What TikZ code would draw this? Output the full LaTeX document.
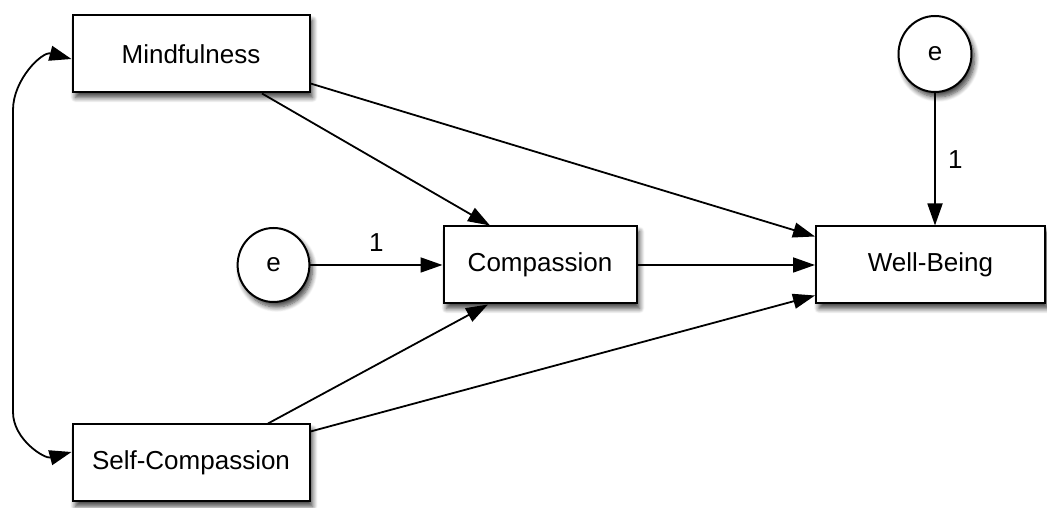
\documentclass[tikz,border=0pt]{standalone}
\usepackage{fontspec}
\setmainfont{Liberation Sans}
\usetikzlibrary{arrows.meta,shadows.blur}
\begin{document}
\begin{tikzpicture}[x=1pt,y=1pt,
  font=\fontsize{26}{31}\selectfont,
  shad/.style={blur shadow={shadow xshift=3pt,shadow yshift=-5pt,shadow blur steps=8,shadow blur radius=5pt,shadow opacity=75}},
  var/.style={draw,line width=2pt,fill=white,inner sep=0pt,minimum height=77pt,shad},
  errc/.style={draw,line width=2pt,fill=white,circle,inner sep=0pt,shad},
  path/.style={line width=1.8pt,-{Triangle[length=22pt,width=15pt]}},
  dpath/.style={line width=1.8pt,{Triangle[length=22pt,width=15pt]}-{Triangle[length=22pt,width=15pt]}}
]
\useasboundingbox (0,0) rectangle (1047,508);
\node[var,minimum width=237pt] (M) at (191,454) {Mindfulness};
\node[var,minimum width=237pt] (S) at (191,45) {Self-Compassion};
\node[var,minimum width=193pt] (C) at (540,243) {Compassion};
\node[var,minimum width=229pt] (W) at (930.5,243) {Well-Being};
\node[errc,minimum size=74pt,xscale=0.97] (e1) at (273.5,243) {};
\node at (e1) {e};
\node[errc,minimum size=76pt,xscale=0.96] (e2) at (935,454) {};
\node at (e2) {e};
\coordinate (c1) at (13,398);
\coordinate (c2) at (13,96);
\draw[path] ([xshift=71pt]M.south) -- ([xshift=-50pt]C.north);
\draw[path] ([yshift=10pt]M.south east) -- ([yshift=-11pt]W.north west);
\draw[path] (C.east) -- (W.west);
\draw[path] ([xshift=77pt]S.north) -- ([xshift=-52pt]C.south);
\draw[path] ([yshift=-8pt]S.north east) -- ([yshift=9pt]W.south west);
\draw[path] (e1.east) -- node[above=9pt] {1} (C.west);
\draw[path] (e2.south) -- node[right=9pt,pos=0.5] {1} (e2.south |- W.north);
\draw[dpath] ([yshift=-5pt]M.west) to[out=165,in=90,looseness=1] (c1) -- (c2) to[out=-90,in=195,looseness=1] ([yshift=11pt]S.west);
\end{tikzpicture}
\end{document}
